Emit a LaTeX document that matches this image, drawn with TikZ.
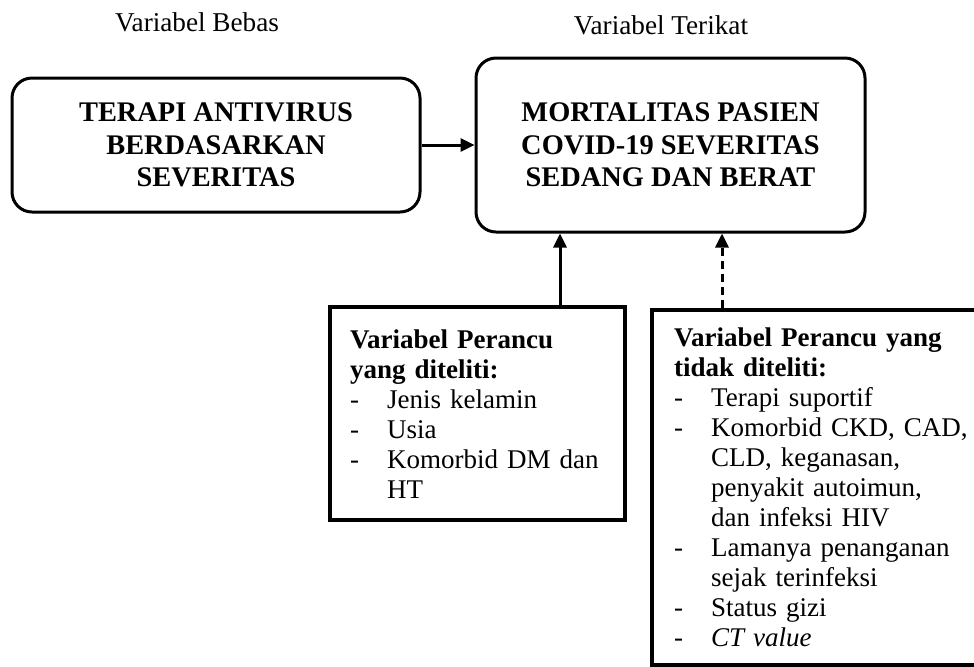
\documentclass[tikz,border=0pt]{standalone}
\usepackage{fontspec}
\setmainfont{Liberation Serif}
\usetikzlibrary{positioning,arrows.meta}
\newcommand{\itm}{\makebox[18.5pt][l]{-}}
\newcommand{\ind}{\hspace*{18.5pt}}
\tikzset{
  roundbox/.style={draw, line width=1.5pt, rounded corners=10pt, align=center,
    font=\fontsize{14.2}{16.3}\selectfont\bfseries},
  listbox/.style={draw, line width=2.2pt, align=left, inner xsep=10pt,
    font=\fontsize{13.5}{15}\selectfont},
  varlabel/.style={font=\fontsize{13.6}{15}\selectfont},
  arrow/.style={line width=1.5pt, -{Triangle[length=7pt,width=6.5pt]}}
}
\begin{document}
\begin{tikzpicture}[x=0.5pt,y=-0.5pt]
\useasboundingbox (0,0) rectangle (974,666);
\node[roundbox, minimum width=204pt, minimum height=67pt](bebas) at (216,145)
  {TERAPI ANTIVIRUS\\BERDASARKAN\\SEVERITAS};
\node[roundbox, minimum width=194.5pt, minimum height=87pt, right=26.5pt of bebas](terikat)
  {MORTALITAS PASIEN\\COVID-19 SEVERITAS\\SEDANG DAN BERAT};
\node[varlabel](lblbebas) at (197,22) {Variabel Bebas};
\node[varlabel](lblterikat) at (661,25) {Variabel Terikat};
\node[listbox, text width=127.5pt, minimum height=106.5pt, anchor=north west](diteliti) at (328,305)
  {\textbf{Variabel Perancu}\\
   \textbf{yang diteliti:}\\
   \itm Jenis kelamin\\
   \itm Usia\\
   \itm Komorbid DM dan\\
   \ind HT\\[3pt]};
\node[listbox, inner xsep=11pt, text width=150pt, minimum height=177.5pt, anchor=north west](tidakditeliti) at (650,308)
  {\textbf{Variabel Perancu yang}\\
   \textbf{tidak diteliti:}\\
   \itm Terapi suportif\\
   \itm Komorbid CKD, CAD,\\
   \ind CLD, keganasan,\\
   \ind penyakit autoimun,\\
   \ind dan infeksi HIV\\
   \itm Lamanya penanganan\\
   \ind sejak terinfeksi\\
   \itm Status gizi\\
   \itm \textit{CT value}\\[3pt]};
\draw[arrow](bebas)--(terikat);
\draw[arrow]([xshift=116pt]diteliti.north west)--([xshift=116pt]diteliti.north west |- terikat.south);
\draw[arrow, dash pattern=on 4pt off 2.5pt]([xshift=36pt]tidakditeliti.north west)--([xshift=36pt]tidakditeliti.north west |- terikat.south);
\end{tikzpicture}
\end{document}
